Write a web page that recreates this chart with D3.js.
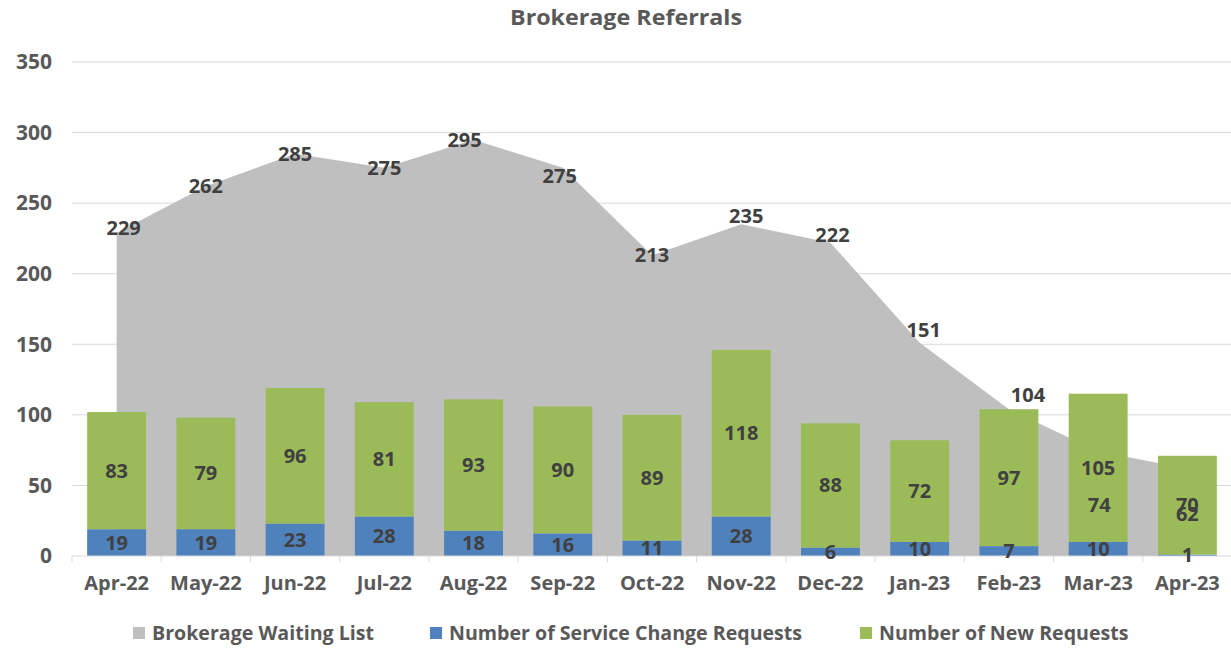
<!DOCTYPE html>
<html>
<head>
<meta charset="utf-8">
<script src="https://cdn.jsdelivr.net/npm/d3@7"></script>
<style>
  body { margin: 0; background: #fff; }
  svg text { font-family: "Open Sans", Lato, sans-serif; font-weight: bold; }
</style>
</head>
<body>
<svg id="chart" width="1231" height="649"></svg>
<script>
const months = ["Apr-22","May-22","Jun-22","Jul-22","Aug-22","Sep-22","Oct-22","Nov-22","Dec-22","Jan-23","Feb-23","Mar-23","Apr-23"];
const waitingList = [229, 262, 285, 275, 295, 275, 213, 235, 222, 151, 104, 74, 62];
const serviceChange = [19, 19, 23, 28, 18, 16, 11, 28, 6, 10, 7, 10, 1];
const newRequests = [83, 79, 96, 81, 93, 90, 89, 118, 88, 72, 97, 105, 70];
const yTicks = [0, 50, 100, 150, 200, 250, 300, 350];

const seriesNames = ["Brokerage Waiting List", "Number of Service Change Requests", "Number of New Requests"];
const colors = ["#bfbfbf", "#4f81bd", "#9bbb59"];

// waiting list labels that sit off their point in the original
const labelNudge = {
  "Apr-22": [7, -5], "Aug-22": [-9, 0], "Sep-22": [-3, 8], "Nov-22": [5, -8], "Dec-22": [2, -8],
  "Jan-23": [4, -13], "Feb-23": [19, -14], "Mar-23": [1, 53], "Apr-23": [0, 46]
};

const svg = d3.select("#chart");
const plotL = 72, plotR = 1232, plotT = 62, plotB = 556;

const x = d3.scaleBand().domain(months).range([plotL, plotR]).paddingInner(0.34).paddingOuter(0.17);
const y = d3.scaleLinear().domain([0, 350]).range([plotB, plotT]);
const cx = m => x(m) + x.bandwidth() / 2;

/* TITLE */
svg.append("text")
  .attr("x", 626).attr("y", 17)
  .attr("dy", "0.35em")
  .attr("text-anchor", "middle")
  .attr("font-size", 22).attr("fill", "#595959")
  .attr("textLength", 232).attr("lengthAdjust", "spacingAndGlyphs")
  .text("Brokerage Referrals");

/* GRID + Y AXIS */
svg.selectAll(".grid")
  .data(yTicks.filter(d => d > 0))
  .enter().append("line")
  .attr("x1", plotL).attr("x2", 1231)
  .attr("y1", d => y(d)).attr("y2", d => y(d))
  .attr("stroke", "#d9d9d9").attr("stroke-width", 1);

svg.selectAll(".ylab")
  .data(yTicks)
  .enter().append("text")
  .attr("x", 52).attr("y", d => y(d))
  .attr("dy", "0.35em")
  .attr("text-anchor", "end")
  .attr("font-size", 21).attr("fill", "#595959")
  .text(d => d);

/* AREA */
const waitData = months.map((m, i) => ({ m, v: waitingList[i] }));
const area = d3.area()
  .x(d => cx(d.m))
  .y0(y(0))
  .y1(d => y(d.v));

svg.append("path")
  .datum(waitData)
  .attr("d", area)
  .attr("fill", colors[0]);

/* STACKED BARS */
const rows = months.map((m, i) => ({ m, sc: serviceChange[i], nr: newRequests[i] }));
const stack = d3.stack().keys(["sc", "nr"])(rows);

stack.forEach((layer, k) => {
  svg.selectAll(".bar" + k)
    .data(layer)
    .enter().append("rect")
    .attr("x", d => x(d.data.m))
    .attr("width", x.bandwidth())
    .attr("y", d => y(d[1]))
    .attr("height", d => y(d[0]) - y(d[1]))
    .attr("fill", colors[k + 1]);
});

/* X AXIS */
svg.append("line")
  .attr("x1", plotL).attr("x2", 1231)
  .attr("y1", plotB).attr("y2", plotB)
  .attr("stroke", "#d9d9d9");

const step = x.step();
svg.selectAll(".tick")
  .data(d3.range(months.length + 1))
  .enter().append("line")
  .attr("x1", i => plotL + i * step).attr("x2", i => plotL + i * step)
  .attr("y1", plotB).attr("y2", plotB + 6)
  .attr("stroke", "#d9d9d9");

svg.selectAll(".xlab")
  .data(months)
  .enter().append("text")
  .attr("x", d => cx(d)).attr("y", 583)
  .attr("dy", "0.35em")
  .attr("text-anchor", "middle")
  .attr("font-size", 20).attr("fill", "#595959")
  .text(d => d);

/* DATA LABELS */
stack.forEach(layer => {
  svg.selectAll(null)
    .data(layer)
    .enter().append("text")
    .attr("x", d => cx(d.data.m))
    .attr("y", d => (y(d[0]) + y(d[1])) / 2)
    .attr("dy", "0.35em")
    .attr("text-anchor", "middle")
    .attr("font-size", 20).attr("fill", "#404040")
    .text(d => d[1] - d[0]);
});

svg.selectAll(".alab")
  .data(waitData)
  .enter().append("text")
  .attr("x", d => cx(d.m) + (labelNudge[d.m] || [0, 0])[0])
  .attr("y", d => y(d.v) + (labelNudge[d.m] || [0, 0])[1])
  .attr("dy", "0.35em")
  .attr("text-anchor", "middle")
  .attr("font-size", 20).attr("fill", "#404040")
  .text(d => d.v);

/* LEGEND */
const legendX = [133, 430, 860];
seriesNames.forEach((name, i) => {
  svg.append("rect")
    .attr("x", legendX[i]).attr("y", 627)
    .attr("width", 12).attr("height", 12)
    .attr("fill", colors[i]);
  svg.append("text")
    .attr("x", legendX[i] + 19).attr("y", 633)
    .attr("dy", "0.35em")
    .attr("font-size", 19.6).attr("fill", "#595959")
    .text(name);
});
</script>
</body>
</html>
